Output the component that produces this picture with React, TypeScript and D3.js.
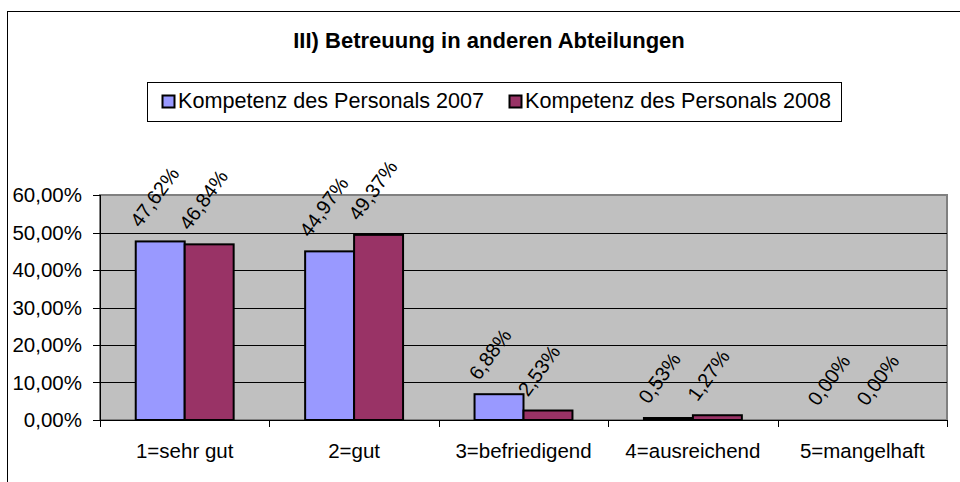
import * as d3 from "d3";

const categories = ["1=sehr gut", "2=gut", "3=befriedigend", "4=ausreichend", "5=mangelhaft"];
const seriesNames = ["Kompetenz des Personals 2007", "Kompetenz des Personals 2008"];
const values2007 = [0.4762, 0.4497, 0.0688, 0.0053, 0.0];
const values2008 = [0.4684, 0.4937, 0.0253, 0.0127, 0.0];
const yTicks = [0, 0.1, 0.2, 0.3, 0.4, 0.5, 0.6];
const colors = ["#9999FF", "#993366"];

const font = "'Liberation Sans', Arial, sans-serif";
const fmt = (v: number) => (v * 100).toFixed(2).replace(".", ",") + "%";

export default function App() {
  const width = 960;
  const height = 482;
  const plot = { left: 100, right: 947, top: 195, bottom: 420 };

  const x = d3
    .scaleBand<string>()
    .domain(categories)
    .range([plot.left, plot.right])
    .paddingInner(0)
    .paddingOuter(0);
  const xSeries = d3
    .scaleBand<number>()
    .domain([0, 1])
    .range([0, x.bandwidth()])
    .paddingOuter(0.73)
    .paddingInner(0);
  const y = d3.scaleLinear().domain([0, 0.6]).range([plot.bottom, plot.top]);

  const series = [values2007, values2008];

  return (
    <svg
      width={width}
      height={height}
      style={{ position: "absolute", left: 0, top: 0, display: "block" }}
      fontFamily={font}
    >
      <rect x={0} y={0} width={width} height={height} fill="white" />
      {/* chart frame, only top and left edges visible */}
      <rect x={7.5} y={11.5} width={1200} height={1200} fill="none" stroke="black" />

      <text x={489} y={48} textAnchor="middle" fontSize={22} fontWeight="bold">
        III) Betreuung in anderen Abteilungen
      </text>

      {/* legend */}
      <rect x={147.5} y={82.5} width={694} height={39} fill="white" stroke="#000" />
      {seriesNames.map((name, i) => {
        const lx = i === 0 ? 162 : 509;
        return (
          <g key={name}>
            <rect x={lx + 0.5} y={95.5} width={12} height={12} fill={colors[i]} stroke="black" strokeWidth={2} />
            <text x={lx + 16} y={108} fontSize={21.6}>
              {name}
            </text>
          </g>
        );
      })}

      {/* plot area */}
      <rect
        x={plot.left}
        y={plot.top}
        width={plot.right - plot.left}
        height={plot.bottom - plot.top}
        fill="#C0C0C0"
        stroke="#808080"
        strokeWidth={2}
      />
      {yTicks.slice(1, -1).map((t) => (
        <line key={t} x1={plot.left} x2={plot.right} y1={Math.round(y(t)) + 0.5} y2={Math.round(y(t)) + 0.5} stroke="black" />
      ))}

      {/* bars */}
      {categories.map((c, ci) =>
        series.map((vals, si) => {
          const bx = (x(c) ?? 0) + (xSeries(si) ?? 0);
          const by = y(vals[ci]);
          const bh = plot.bottom - by;
          return bh > 0 ? (
            <rect
              key={c + si}
              x={bx}
              y={by}
              width={xSeries.bandwidth()}
              height={bh}
              fill={colors[si]}
              stroke="black"
              strokeWidth={2}
            />
          ) : null;
        })
      )}

      {/* data labels */}
      {categories.map((c, ci) =>
        series.map((vals, si) => {
          const cx = (x(c) ?? 0) + (xSeries(si) ?? 0) + xSeries.bandwidth() / 2;
          const top = y(vals[ci]);
          return (
            <text
              key={"l" + c + si}
              transform={`translate(${cx - 20},${top - 13}) rotate(-54)`}
              fontSize={20}
            >
              {fmt(vals[ci])}
            </text>
          );
        })
      )}

      {/* y axis */}
      <line x1={plot.left + 0.5} x2={plot.left + 0.5} y1={plot.top} y2={plot.bottom} stroke="black" />
      {yTicks.map((t) => (
        <g key={"yt" + t}>
          <line x1={93} x2={plot.left} y1={Math.round(y(t)) + 0.5} y2={Math.round(y(t)) + 0.5} stroke="black" />
          <text x={82} y={y(t)} dy="0.36em" textAnchor="end" fontSize={20.5}>
            {fmt(t)}
          </text>
        </g>
      ))}

      {/* x axis */}
      <line x1={plot.left} x2={plot.right} y1={plot.bottom + 0.5} y2={plot.bottom + 0.5} stroke="black" />
      {[...categories.map((c) => x(c) ?? 0), plot.right].map((px, i) => (
        <line key={"xt" + i} x1={Math.round(px) + 0.5} x2={Math.round(px) + 0.5} y1={plot.bottom} y2={plot.bottom + 7} stroke="black" />
      ))}
      {categories.map((c) => (
        <text key={"xl" + c} x={(x(c) ?? 0) + x.bandwidth() / 2} y={458} textAnchor="middle" fontSize={20.5}>
          {c}
        </text>
      ))}
    </svg>
  );
}
